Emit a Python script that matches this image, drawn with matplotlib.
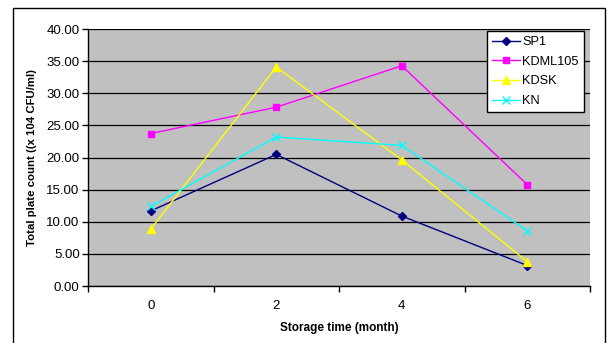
import matplotlib
matplotlib.use("Agg")
import matplotlib.pyplot as plt
from matplotlib.patches import Rectangle
from matplotlib.ticker import FixedLocator, FormatStrFormatter

plt.rcParams['font.family'] = ['Liberation Sans', 'DejaVu Sans']

# storage time categories (month)
months = ['0', '2', '4', '6']

# total plate count (x 10^4 CFU/ml)
sp1 = [11.7, 20.5, 10.9, 3.2]
kdml105 = [23.75, 27.85, 34.3, 15.8]
kdsk = [8.87, 34.1, 19.65, 3.8]
kn = [12.4, 23.2, 21.9, 8.6]

fig = plt.figure(figsize=(6.07, 3.43), dpi=100)
ax = fig.add_axes([0.145, 0.166, 0.827, 0.749])
ax.set_facecolor('#C0C0C0')

# outer chart border
fig.patches.append(Rectangle((13/607, -0.05), 592/607, 1.05 - 8/343,
                             transform=fig.transFigure, fill=False,
                             edgecolor='black', linewidth=1.0))

x = list(range(len(months)))
ax.plot(x, sp1, color='#000080', marker='D', markersize=4.5, linewidth=1, label='SP1')
ax.plot(x, kdml105, color='#FF00FF', marker='s', markersize=5, linewidth=1, label='KDML105')
ax.plot(x, kdsk, color='#FFFF00', marker='^', markersize=6, linewidth=1, label='KDSK')
ax.plot(x, kn, color='#00FFFF', marker='x', markersize=6, linewidth=1, markeredgewidth=1, label='KN')

ax.set_xlim(-0.5, len(months) - 0.5)
ax.set_ylim(0, 40)
ax.set_yticks([0, 5, 10, 15, 20, 25, 30, 35, 40])
ax.yaxis.set_major_formatter(FormatStrFormatter('%.2f'))
ax.set_xticks(x)
ax.set_xticklabels(months)
ax.xaxis.set_minor_locator(FixedLocator([i - 0.5 for i in range(len(months) + 1)]))
ax.tick_params(axis='x', which='major', length=0, pad=10, labelsize=9.5)
ax.tick_params(axis='x', which='minor', length=4, direction='out', width=1)
ax.tick_params(axis='y', length=4, direction='out', width=1, labelsize=9.5, pad=2)

ax.grid(axis='y', color='black', linewidth=0.9)
ax.set_axisbelow(True)
for s in ['top', 'right']:
    ax.spines[s].set_visible(False)
ax.spines['left'].set_linewidth(1)
ax.spines['bottom'].set_linewidth(1)

ax.set_ylabel('Total plate count ((x 104 CFU/ml)', fontsize=8.2, fontweight='bold', labelpad=7)
ax.set_xlabel('Storage time (month)', fontsize=8.5, fontweight='bold', labelpad=7)

leg = ax.legend(loc='upper right', bbox_to_anchor=(0.988, 0.993), fontsize=9.2,
                frameon=True, fancybox=False, framealpha=1, edgecolor='black',
                handlelength=2.2, borderpad=0.4, labelspacing=0.6, handletextpad=0.2,
                borderaxespad=0)
leg.get_frame().set_linewidth(1)

fig.savefig('out.png', dpi=100)
